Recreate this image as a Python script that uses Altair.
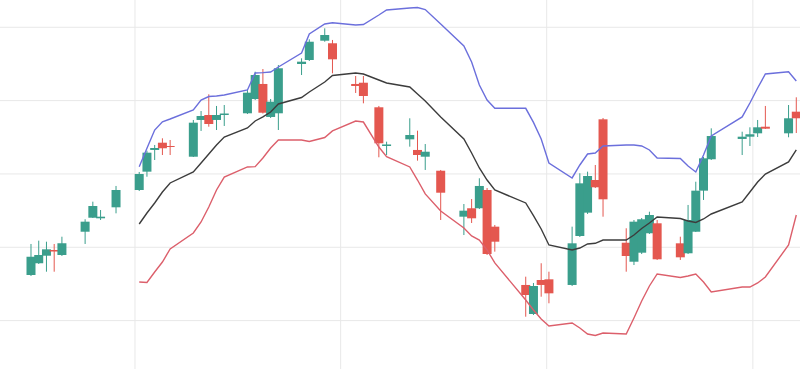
import altair as alt
import pandas as pd

# ---- candle data (trading day index, OHLC) ----
days = [0, 1, 2, 3, 4, 7, 8, 9, 11, 14, 15, 16, 17, 18, 21, 22, 23, 24, 25,
        28, 29, 30, 31, 32, 35, 36, 38, 39, 42, 43, 45, 46, 49, 50, 51, 53,
        56, 57, 58, 59, 60, 64, 65, 66, 67, 70, 71, 72, 73, 74, 77, 78, 79,
        80, 81, 84, 85, 86, 87, 88, 92, 93, 94, 95, 98, 99]
opens = [106.22, 107.82, 108.85, 109.63, 108.95, 112.12, 114.03, 113.95, 115.45,
         117.81, 120.31, 123.27, 124.26, 123.81, 122.35, 127.36, 128.04, 127.36, 128.04,
         128.27, 130.22, 132.27, 127.77, 128.27, 134.99, 135.54, 138.17, 137.82,
         132.27, 132.44, 129.09, 123.81, 124.72, 123.27, 122.35, 120.44,
         114.17, 115.32, 115.32, 117.81, 112.81, 104.86, 100.90, 105.54, 105.63,
         104.86, 111.54, 114.72, 119.17, 127.45, 110.62, 108.03, 109.26,
         111.91, 113.27, 110.54, 109.18, 112.12, 117.72, 122.00,
         124.77, 125.08, 125.54, 126.44, 125.54, 128.49]
highs = [110.45, 110.90, 110.76, 110.45, 111.44, 113.82, 116.22, 115.08, 118.36,
         120.27, 123.17, 123.95, 124.86, 124.63, 127.36, 128.58, 130.86, 129.27, 129.40,
         131.58, 133.94, 134.31, 130.22, 134.86, 135.77, 138.36, 139.86, 138.27,
         133.36, 133.36, 129.27, 124.40, 127.59, 125.90, 124.08, 120.54,
         115.90, 116.58, 119.41, 118.08, 113.04, 105.99, 105.13, 107.82, 106.67,
         112.81, 120.09, 120.31, 121.22, 127.63, 112.59, 113.72, 113.99,
         114.85, 113.72, 111.44, 115.77, 118.94, 122.31, 126.22,
         125.76, 126.36, 127.36, 129.27, 129.40, 130.45]
lows = [106.08, 107.72, 106.67, 106.67, 108.81, 110.45, 113.99, 113.72, 114.63,
        117.67, 119.62, 121.90, 122.58, 122.58, 122.31, 125.86, 126.44, 125.99, 126.54,
        128.17, 130.08, 128.24, 127.63, 125.99, 133.49, 135.40, 138.03, 133.72,
        131.04, 129.63, 122.27, 122.58, 123.72, 121.81, 120.54, 113.72,
        111.67, 113.31, 115.22, 108.95, 109.40, 100.53, 100.77, 103.26, 102.36,
        104.72, 111.40, 114.54, 118.08, 114.17, 106.67, 107.58, 109.08,
        111.81, 108.27, 108.27, 109.08, 112.08, 116.45, 121.90,
        122.58, 123.81, 125.04, 126.13, 125.00, 125.58]
closes = [108.72, 108.95, 109.72, 109.42, 110.54, 113.49, 115.63, 114.17, 117.81,
          119.99, 122.90, 123.54, 123.50, 123.67, 126.99, 127.90, 126.81, 128.04, 128.24,
          131.08, 133.49, 128.35, 129.85, 134.41, 135.31, 138.03, 138.95, 135.63,
          131.99, 130.63, 124.18, 124.02, 125.31, 122.58, 123.03, 117.44,
          114.99, 113.95, 118.36, 109.08, 110.76, 103.49, 104.72, 104.86, 103.72,
          110.54, 118.72, 119.72, 118.18, 116.54, 108.81, 113.49, 113.82,
          114.40, 108.36, 108.63, 113.72, 117.72, 122.13, 125.17,
          125.08, 125.41, 126.36, 126.17, 127.59, 127.59]

# ---- Bollinger bands ----
band_days = [14, 15, 16, 17, 18, 21, 22, 23, 24, 25, 28, 29, 30, 31, 32, 35, 36, 38, 39,
             42, 43, 45, 46, 49, 50, 51, 53, 56, 57, 58, 59, 60, 64, 65, 66, 67,
             70, 71, 72, 73, 74, 77, 78, 79, 80, 81, 84, 85, 86, 87, 88, 92, 93, 94, 95, 98, 99]
upper = [120.99, 123.50, 125.99, 127.12, 127.49, 128.72, 130.08, 130.56, 130.63, 130.77,
         131.45, 133.77, 133.81, 133.90, 134.58, 136.49, 139.08, 140.45, 140.62,
         140.31, 140.38, 141.67, 142.36, 142.63, 142.70, 142.42, 140.45,
         137.45, 135.27, 132.13, 130.08, 128.95, 128.95, 127.03, 124.77, 121.49,
         119.45, 121.22, 122.72, 122.86, 123.81, 123.95, 123.95, 123.81, 123.27, 122.17,
         122.11, 121.08, 120.27, 122.58, 125.17, 127.77, 129.67, 131.72, 133.63, 133.94, 132.67]
middle = [113.17, 114.67, 116.04, 117.54, 118.77, 120.27, 121.49, 122.72, 123.95, 125.04,
          126.27, 127.22, 127.77, 128.45, 129.54, 130.42, 131.17, 132.54, 133.42,
          133.77, 133.63, 132.81, 132.40, 131.86, 130.90, 129.95, 127.77,
          124.77, 122.86, 120.81, 119.17, 117.81, 116.04, 114.31, 112.49, 110.31,
          109.63, 109.90, 110.45, 110.54, 110.99, 110.99, 111.67, 112.56, 113.31, 114.13,
          113.92, 113.58, 113.38, 113.86, 114.54, 116.17, 117.54, 118.90, 119.99, 121.63, 123.27]
lower = [105.27, 105.20, 106.63, 107.99, 109.77, 111.95, 113.45, 115.49, 117.81, 119.58,
         120.95, 120.99, 122.17, 123.54, 124.63, 124.63, 124.42, 124.97, 125.86,
         127.22, 127.08, 123.67, 122.35, 120.95, 119.17, 117.27, 114.95,
         112.63, 111.54, 110.99, 109.63, 107.86, 102.81, 101.45, 100.22, 99.27,
         99.67, 98.99, 98.17, 97.97, 98.31, 98.17, 100.36, 102.67, 104.72, 106.36,
         105.88, 106.08, 106.36, 105.27, 103.90, 104.58, 104.58, 105.13, 105.95, 110.31, 114.40]

grid_x = [13.45, 40.06, 66.71, 93.38]
grid_y = [100, 110, 120, 130, 140]

GREEN = "#3a9e8c"
RED = "#e4574f"
GRID = "#e8e8e8"

candles = pd.DataFrame({"day": days, "open": opens, "high": highs,
                        "low": lows, "close": closes})
bands = pd.DataFrame({"day": band_days, "upper": upper, "middle": middle, "lower": lower})
gx = pd.DataFrame({"gx": grid_x})
gy = pd.DataFrame({"gy": grid_y})

xscale = alt.Scale(domain=[-4.01, 99.48], nice=False, zero=False, padding=0)
yscale = alt.Scale(domain=[93.40, 143.72], nice=False, zero=False, padding=0)

color = alt.condition("datum.close >= datum.open", alt.value(GREEN), alt.value(RED))

vgrid = alt.Chart(gx).mark_rule(color=GRID, strokeWidth=1).encode(
    x=alt.X("gx:Q", scale=xscale, axis=None),
)
hgrid = alt.Chart(gy).mark_rule(color=GRID, strokeWidth=1).encode(
    y=alt.Y("gy:Q", scale=yscale, axis=None),
)

base = alt.Chart(candles)
wicks = base.mark_rule(strokeWidth=1, clip=True).encode(
    x=alt.X("day:Q", scale=xscale, axis=None),
    y=alt.Y("low:Q", scale=yscale, axis=None),
    y2="high:Q",
    color=color,
)
bodies = base.mark_bar(size=9, clip=True).encode(
    x=alt.X("day:Q", scale=xscale, axis=None),
    y=alt.Y("open:Q", scale=yscale, axis=None),
    y2="close:Q",
    color=color,
)

def band(field, col, w=1.4):
    return alt.Chart(bands).mark_line(color=col, strokeWidth=w, clip=True).encode(
        x=alt.X("day:Q", scale=xscale, axis=None),
        y=alt.Y(f"{field}:Q", scale=yscale, axis=None),
    )

chart = alt.layer(
    vgrid, hgrid, wicks, bodies,
    band("upper", "#6b6fdc"),
    band("middle", "#3c3c3c"),
    band("lower", "#dc5f6b"),
).properties(
    width=800, height=369, padding=0,
    autosize=alt.AutoSizeParams(type="none"),
).configure_view(stroke=None)

chart.save("out.html", embed_options={"renderer": "svg", "actions": False})
